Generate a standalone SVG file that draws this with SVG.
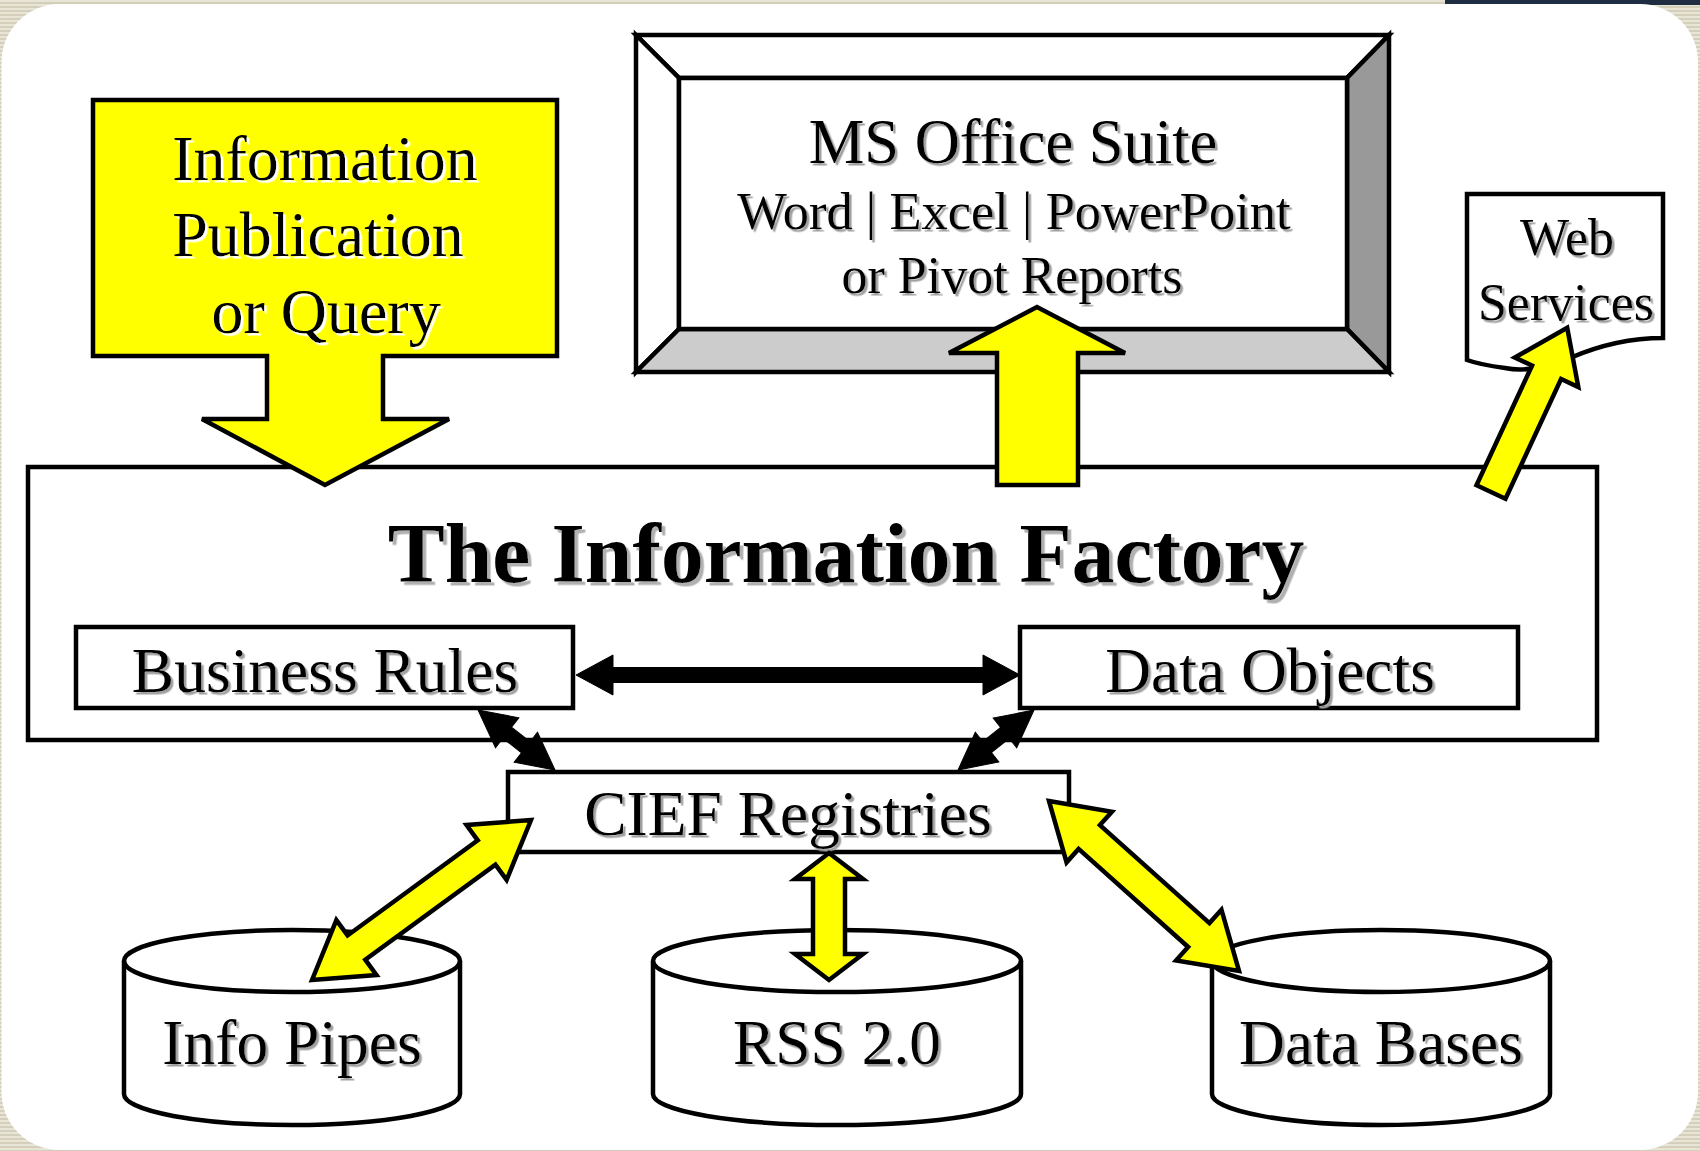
<svg xmlns="http://www.w3.org/2000/svg" width="1700" height="1151" viewBox="0 0 1700 1151">
  <defs>
    <pattern id="stripes" width="8" height="4" patternUnits="userSpaceOnUse">
      <rect width="8" height="4" fill="#e8e5d6"/>
      <rect y="2" width="8" height="2" fill="#d3cfbb"/>
    </pattern>
    <filter id="shGray" x="-5%" y="-20%" width="110%" height="140%">
      <feDropShadow dx="2.5" dy="2.5" stdDeviation="0.3" flood-color="#a0a0a0" flood-opacity="1"/>
    </filter>
    <filter id="shTitle" x="-5%" y="-20%" width="110%" height="140%">
      <feDropShadow dx="3.5" dy="3.5" stdDeviation="0.3" flood-color="#b0b0b0" flood-opacity="1"/>
    </filter>
    <filter id="shWhite" x="-5%" y="-20%" width="110%" height="140%">
      <feDropShadow dx="2.5" dy="2.5" stdDeviation="0.2" flood-color="#ffffff" flood-opacity="1"/>
    </filter>
  </defs>
  <style>
    .ln { stroke: #000; stroke-width: 4.5; stroke-linejoin: miter; }
    .wh { fill: #ffffff; }
    .yl { fill: #ffff00; }
    .t { font-family: "Liberation Serif", "Times New Roman", serif; fill: #000; text-anchor: middle; }
    .gs { filter: url(#shGray); }
    .ws { filter: url(#shWhite); }
    .blk { fill: #000; stroke: #000; stroke-width: 1; stroke-linejoin: miter; }
  </style>

  <!-- background -->
  <rect x="0" y="0" width="1700" height="1151" fill="url(#stripes)"/>
  <rect x="1445" y="0" width="255" height="5" fill="#1e2d42"/>
  <rect x="1.5" y="4" width="1696.5" height="1146" rx="58" ry="58" fill="#ffffff"/>

  <g id="factory">
    <rect class="ln wh" x="28" y="467" width="1569" height="273"/>
    <text class="t" x="846" y="582" font-size="85.5" font-weight="bold" filter="url(#shTitle)">The Information Factory</text>
  </g>

  <g id="business-rules">
    <rect class="ln wh" x="76" y="627" width="497" height="81"/>
    <text class="t gs" x="325" y="692" font-size="63.5">Business Rules</text>
  </g>

  <g id="data-objects">
    <rect class="ln wh" x="1020" y="627" width="498" height="81"/>
    <text class="t gs" x="1270" y="692" font-size="63.5">Data Objects</text>
  </g>

  <g id="cief-registries">
    <rect class="ln wh" x="508" y="772" width="561" height="80"/>
    <text class="t gs" x="788" y="835" font-size="63.5">CIEF Registries</text>
  </g>

  <g id="info-pipes">
    <path class="ln wh" d="M124,961 A168,31 0 0 1 460,961 V1094 A168,31 0 0 1 124,1094 Z"/>
    <path class="ln" fill="none" d="M124,961 A168,31 0 0 0 460,961"/>
    <text class="t gs" x="292" y="1064" font-size="63.5">Info Pipes</text>
  </g>

  <g id="rss">
    <path class="ln wh" d="M653,961 A184,31 0 0 1 1021,961 V1094 A184,31 0 0 1 653,1094 Z"/>
    <path class="ln" fill="none" d="M653,961 A184,31 0 0 0 1021,961"/>
    <text class="t gs" x="837" y="1064" font-size="63.5">RSS 2.0</text>
  </g>

  <g id="data-bases">
    <path class="ln wh" d="M1212,961 A169,31 0 0 1 1550,961 V1094 A169,31 0 0 1 1212,1094 Z"/>
    <path class="ln" fill="none" d="M1212,961 A169,31 0 0 0 1550,961"/>
    <text class="t gs" x="1381" y="1064" font-size="63.5">Data Bases</text>
  </g>

  <g id="ms-office">
    <polygon class="ln wh" points="636,35 1389,35 1347,78 679,78"/>
    <polygon class="ln wh" points="636,35 679,78 679,329 636,372"/>
    <polygon class="ln" fill="#999999" points="1389,35 1389,372 1347,329 1347,78"/>
    <polygon class="ln" fill="#cccccc" points="636,372 1389,372 1347,329 679,329"/>
    <rect class="ln wh" x="679" y="78" width="668" height="251"/>
    <text class="t gs" x="1013" y="163" font-size="62.5">MS Office Suite</text>
    <text class="t gs" x="1014" y="229" font-size="52.5">Word | Excel | PowerPoint</text>
    <text class="t gs" x="1012" y="293" font-size="52">or Pivot Reports</text>
  </g>

  <g id="web-services">
    <path class="ln wh" d="M1467,194 H1663 V338 C1630,338 1600,345 1570,358 C1545,368 1525,372 1505,368 C1490,366 1478,364 1467,360 Z"/>
    <text class="t gs" x="1567" y="255" font-size="52">Web</text>
    <text class="t gs" x="1566" y="320" font-size="52">Services</text>
  </g>

  <g id="info-publication">
    <path class="ln yl" d="M93,100 H557 V356 H383 V419 H449 L325,485 L202,419 H267 V356 H93 Z"/>
    <text class="t ws" x="325" y="180" font-size="64">Information</text>
    <text class="t ws" x="318" y="256" font-size="64">Publication</text>
    <text class="t ws" x="326" y="333" font-size="64">or Query</text>
  </g>

  <g id="connectors">
    <!-- factory to MS Office -->
    <path class="ln yl" d="M997,485 V353 H949 L1037,307 L1125,353 H1078 V485 Z"/>
    <!-- factory to Web Services -->
    <polygon class="ln yl" transform="translate(1491,492) rotate(-65.1)" points="0,-16 132,-16 132,-35 181,0 132,35 132,16 0,16"/>
    <!-- Business Rules <-> Data Objects -->
    <polygon class="blk" transform="translate(576,675)" points="0,0 37,-20 37,-7.5 407,-7.5 407,-20 444,0 407,20 407,7.5 37,7.5 37,20"/>
    <!-- Business Rules <-> CIEF -->
    <polygon class="blk" transform="translate(478,710) rotate(37.9)" points="0,0 37,-19 37,-7 60.6,-7 60.6,-19 97.6,0 60.6,19 60.6,7 37,7 37,19"/>
    <!-- Data Objects <-> CIEF -->
    <polygon class="blk" transform="translate(1034,710) rotate(141.7)" points="0,0 37,-19 37,-7 59.8,-7 59.8,-19 96.8,0 59.8,19 59.8,7 37,7 37,19"/>
    <!-- CIEF <-> Info Pipes -->
    <polygon class="ln yl" transform="translate(312,980) rotate(-36.15)" points="0,0 55,-34 55,-15 216.2,-15 216.2,-34 271.2,0 216.2,34 216.2,15 55,15 55,34"/>
    <!-- CIEF <-> RSS -->
    <polygon class="ln yl" transform="translate(829,853) rotate(90)" points="0,0 26,-34 26,-16 101,-16 101,-34 127,0 101,34 101,16 26,16 26,34"/>
    <!-- CIEF <-> Data Bases -->
    <polygon class="ln yl" transform="translate(1049,801) rotate(41.82)" points="0,0 54,-34 54,-16 201,-16 201,-34 255,0 201,34 201,16 54,16 54,34"/>
  </g>
</svg>
